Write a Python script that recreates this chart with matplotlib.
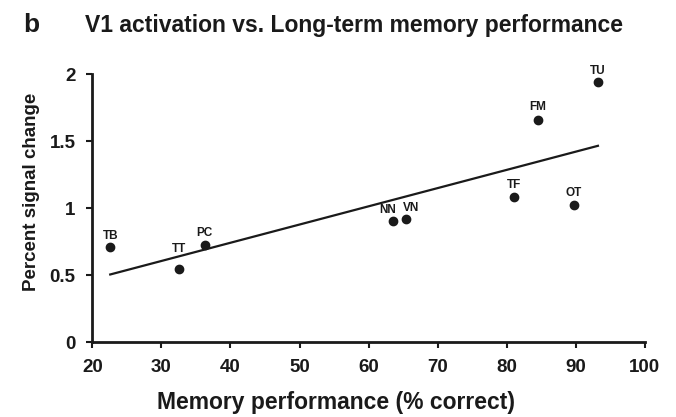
import numpy as np
import matplotlib
matplotlib.use('Agg')
import matplotlib.pyplot as plt

plt.rcParams['font.family'] = ['Liberation Sans', 'DejaVu Sans']
plt.rcParams['font.weight'] = 'bold'

# Dados
sujeitos = ['TB', 'TT', 'PC', 'NN', 'VN', 'TF', 'FM', 'OT', 'TU']
memoria = [22.6, 32.5, 36.3, 63.6, 65.4, 81.1, 84.5, 89.7, 93.2]
sinal = [0.71, 0.545, 0.726, 0.907, 0.918, 1.087, 1.66, 1.025, 1.94]
deslocamento_x = [0, 0, 0, -4, 4, 0, 0, 0, 0]
deslocamento_y = [4, 10, 4, 3, 4, 4, 5, 4, 4]

fig = plt.figure(figsize=(6.76, 4.17), dpi=100)
ax = fig.add_axes([0.1365, 0.179, 0.8175, 0.6435])

ax.scatter(memoria, sinal, s=36, color='#1a1a1a', zorder=3)
for nome, x, y, dx, dy in zip(sujeitos, memoria, sinal, deslocamento_x, deslocamento_y):
    ax.annotate(nome, (x, y), xytext=(dx, dy), textcoords='offset points',
                ha='center', va='bottom', fontsize=8.5, fontweight='bold', color='#1a1a1a')

# Reta de regressão
coef = np.polyfit(memoria, sinal, 1)
xs = np.array([min(memoria), max(memoria)])
ax.plot(xs, np.polyval(coef, xs), color='#1a1a1a', lw=1.6)

ax.set_xlim(20, 100)
ax.set_ylim(0, 2)
ax.set_xticks(range(20, 101, 10))
ax.set_yticks([0, 0.5, 1, 1.5, 2])
ax.set_yticklabels(['0', '0.5', '1', '1.5', '2'])
for s in ['top', 'right']:
    ax.spines[s].set_visible(False)
for s in ['left', 'bottom']:
    ax.spines[s].set_linewidth(2)
    ax.spines[s].set_color('#1a1a1a')
ax.tick_params(direction='out', length=4, width=1.5, labelsize=13.5, colors='#1a1a1a', pad=8)
for lab in ax.get_xticklabels() + ax.get_yticklabels():
    lab.set_fontweight('bold')

fig.text(0.497, 0.019, 'Memory performance (% correct)', fontsize=16.5,
         fontweight='bold', ha='center', va='baseline', color='#1a1a1a')
fig.text(0.047, 0.541, 'Percent signal change', fontsize=13.5, fontweight='bold',
         rotation=90, ha='center', va='center', color='#1a1a1a')

fig.text(0.034, 0.923, 'b', fontsize=19, fontweight='bold', va='baseline', color='#1a1a1a')
fig.text(0.126, 0.923, 'V1 activation vs. Long-term memory performance',
         fontsize=16.5, fontweight='bold', va='baseline', color='#1a1a1a')

fig.savefig('out.png', dpi=100)
